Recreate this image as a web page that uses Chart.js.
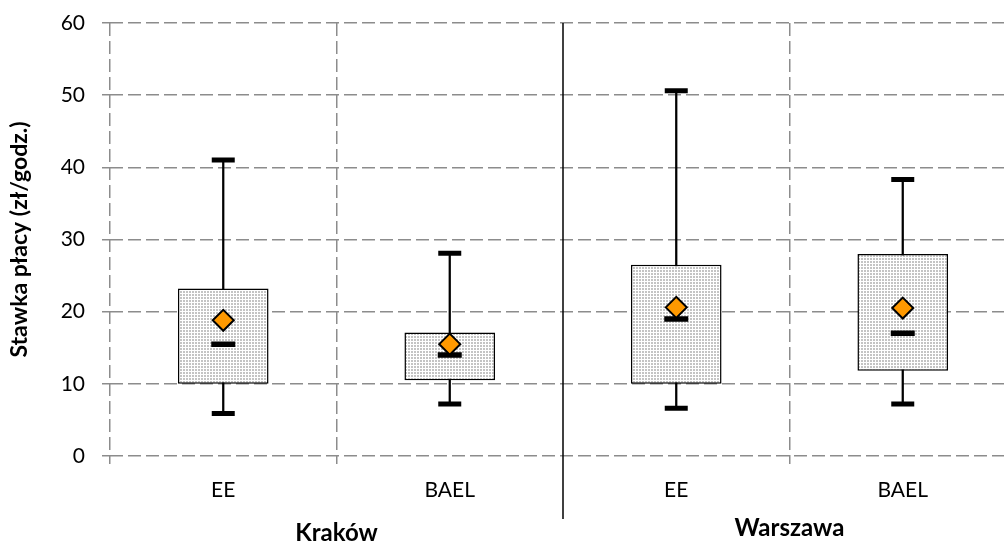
<!DOCTYPE html>
<html lang="pl">
<head>
<meta charset="UTF-8">
<title>Stawka płacy</title>
<script src="https://cdn.jsdelivr.net/npm/chart.js"></script>
<style>
  html, body { margin: 0; padding: 0; overflow: hidden; background: #fff; }
  canvas { display: block; }
</style>
</head>
<body>
<canvas id="myChart" width="1016" height="543"></canvas>
<script>
// dane: stawka płacy (zł/godz.) wg źródła i miasta
const kategorie = ['EE', 'BAEL', 'EE', 'BAEL'];
const miasta = ['Kraków', 'Warszawa'];
const minimum = [5.9, 7.2, 6.6, 7.2];
const kwartyl1 = [10.0, 10.5, 10.0, 11.8];
const mediana = [15.5, 14.0, 19.0, 17.0];
const srednia = [18.8, 15.5, 20.6, 20.5];
const kwartyl3 = [23.2, 17.1, 26.5, 28.0];
const maksimum = [41.0, 28.1, 50.6, 38.3];

const FONT = 'Lato, "Open Sans", sans-serif';
const SZARY = '#8c8c8c';

// kropkowane wypełnienie pudełek
function wzorKropki() {
    const c = document.createElement('canvas');
    c.width = 3; c.height = 3;
    const g = c.getContext('2d');
    g.fillStyle = '#ffffff';
    g.fillRect(0, 0, 3, 3);
    g.fillStyle = '#c4c4c4';
    g.fillRect(0, 0, 2, 2);
    return g.createPattern(c, 'repeat');
}

// linia oddzielająca miasta + podpisy miast
const podzial = {
    id: 'podzial',
    afterDraw(chart) {
        const ctx = chart.ctx;
        const x = chart.scales.x;
        const area = chart.chartArea;
        const xs = (x.getPixelForValue(1) + x.getPixelForValue(2)) / 2;
        ctx.save();
        ctx.strokeStyle = '#000';
        ctx.lineWidth = 1.5;
        ctx.beginPath();
        ctx.moveTo(xs, area.top);
        ctx.lineTo(xs, 519);
        ctx.stroke();

        ctx.font = 'bold 24px ' + FONT;
        ctx.fillStyle = '#000';
        ctx.textAlign = 'center';
        ctx.textBaseline = 'alphabetic';
        ctx.fillText(miasta[0], (x.getPixelForValue(0) + x.getPixelForValue(1)) / 2, 541);
        ctx.fillText(miasta[1], (x.getPixelForValue(2) + x.getPixelForValue(3)) / 2, 536);
        ctx.restore();
    }
};

const punkty = (dane, opcje) => Object.assign({
    type: 'line',
    data: dane,
    showLine: false,
    pointBorderColor: '#000',
    pointBackgroundColor: '#000'
}, opcje);

const data = {
    labels: kategorie,
    datasets: [
        {
            // wąsy
            type: 'bar',
            data: minimum.map((v, i) => [v, maksimum[i]]),
            backgroundColor: '#000',
            borderWidth: 0,
            barThickness: 1.6,
            grouped: false,
            order: 6
        },
        {
            // pudełka Q1-Q3
            type: 'bar',
            data: kwartyl1.map((v, i) => [v, kwartyl3[i]]),
            backgroundColor: wzorKropki(),
            borderColor: '#000',
            borderWidth: 1.5,
            borderSkipped: false,
            barPercentage: 0.4,
            categoryPercentage: 1,
            grouped: false,
            order: 5
        },
        punkty(maksimum, { pointStyle: 'line', pointRadius: 11.5, pointBorderWidth: 5, order: 4 }),
        punkty(minimum, { pointStyle: 'line', pointRadius: 11.5, pointBorderWidth: 5, order: 3 }),
        punkty(mediana, { pointStyle: 'line', pointRadius: 12, pointBorderWidth: 5.5, order: 2 }),
        punkty(srednia, {
            pointStyle: 'rectRot',
            pointRadius: 10.5,
            pointBorderWidth: 2,
            pointBackgroundColor: '#ff9900',
            order: 1
        })
    ]
};

const config = {
    type: 'bar',
    data: data,
    options: {
        responsive: false,
        animation: false,
        events: [],
        layout: { autoPadding: false, padding: { top: 23, right: 0, left: 0, bottom: 0 } },
        plugins: {
            legend: { display: false },
            tooltip: { enabled: false }
        },
        scales: {
            x: {
                grid: {
                    offset: true,
                    color: ctx => ctx.index === 2 ? 'rgba(0,0,0,0)' : SZARY,
                    lineWidth: 1.5,
                    tickLength: 8,
                    borderDash: [13, 5],
                    tickBorderDash: []
                },
                border: { display: false, dash: [13, 5] },
                ticks: { color: '#000', font: { family: FONT, size: 21 }, padding: 14 },
                afterFit: s => {
                    s.height = 87;
                    s.paddingLeft = 0;
                    s.paddingRight = 0;
                }
            },
            y: {
                min: 0,
                max: 60,
                grid: {
                    color: SZARY,
                    lineWidth: 1.5,
                    tickLength: 8,
                    borderDash: [13, 5],
                    tickBorderDash: []
                },
                border: { display: false, dash: [13, 5] },
                ticks: { stepSize: 10, color: '#000', font: { family: FONT, size: 21 }, padding: 17 },
                title: {
                    display: true,
                    text: 'Stawka płacy (zł/godz.)',
                    color: '#000',
                    font: { family: FONT, size: 23, weight: 'bold' },
                    padding: { top: 6, bottom: 0 }
                },
                afterFit: s => {
                    s.width = 110;
                    s.paddingTop = 0;
                    s.paddingBottom = 0;
                }
            }
        }
    },
    plugins: [podzial]
};

const myChart = new Chart(document.getElementById('myChart'), config);
</script>
</body>
</html>
